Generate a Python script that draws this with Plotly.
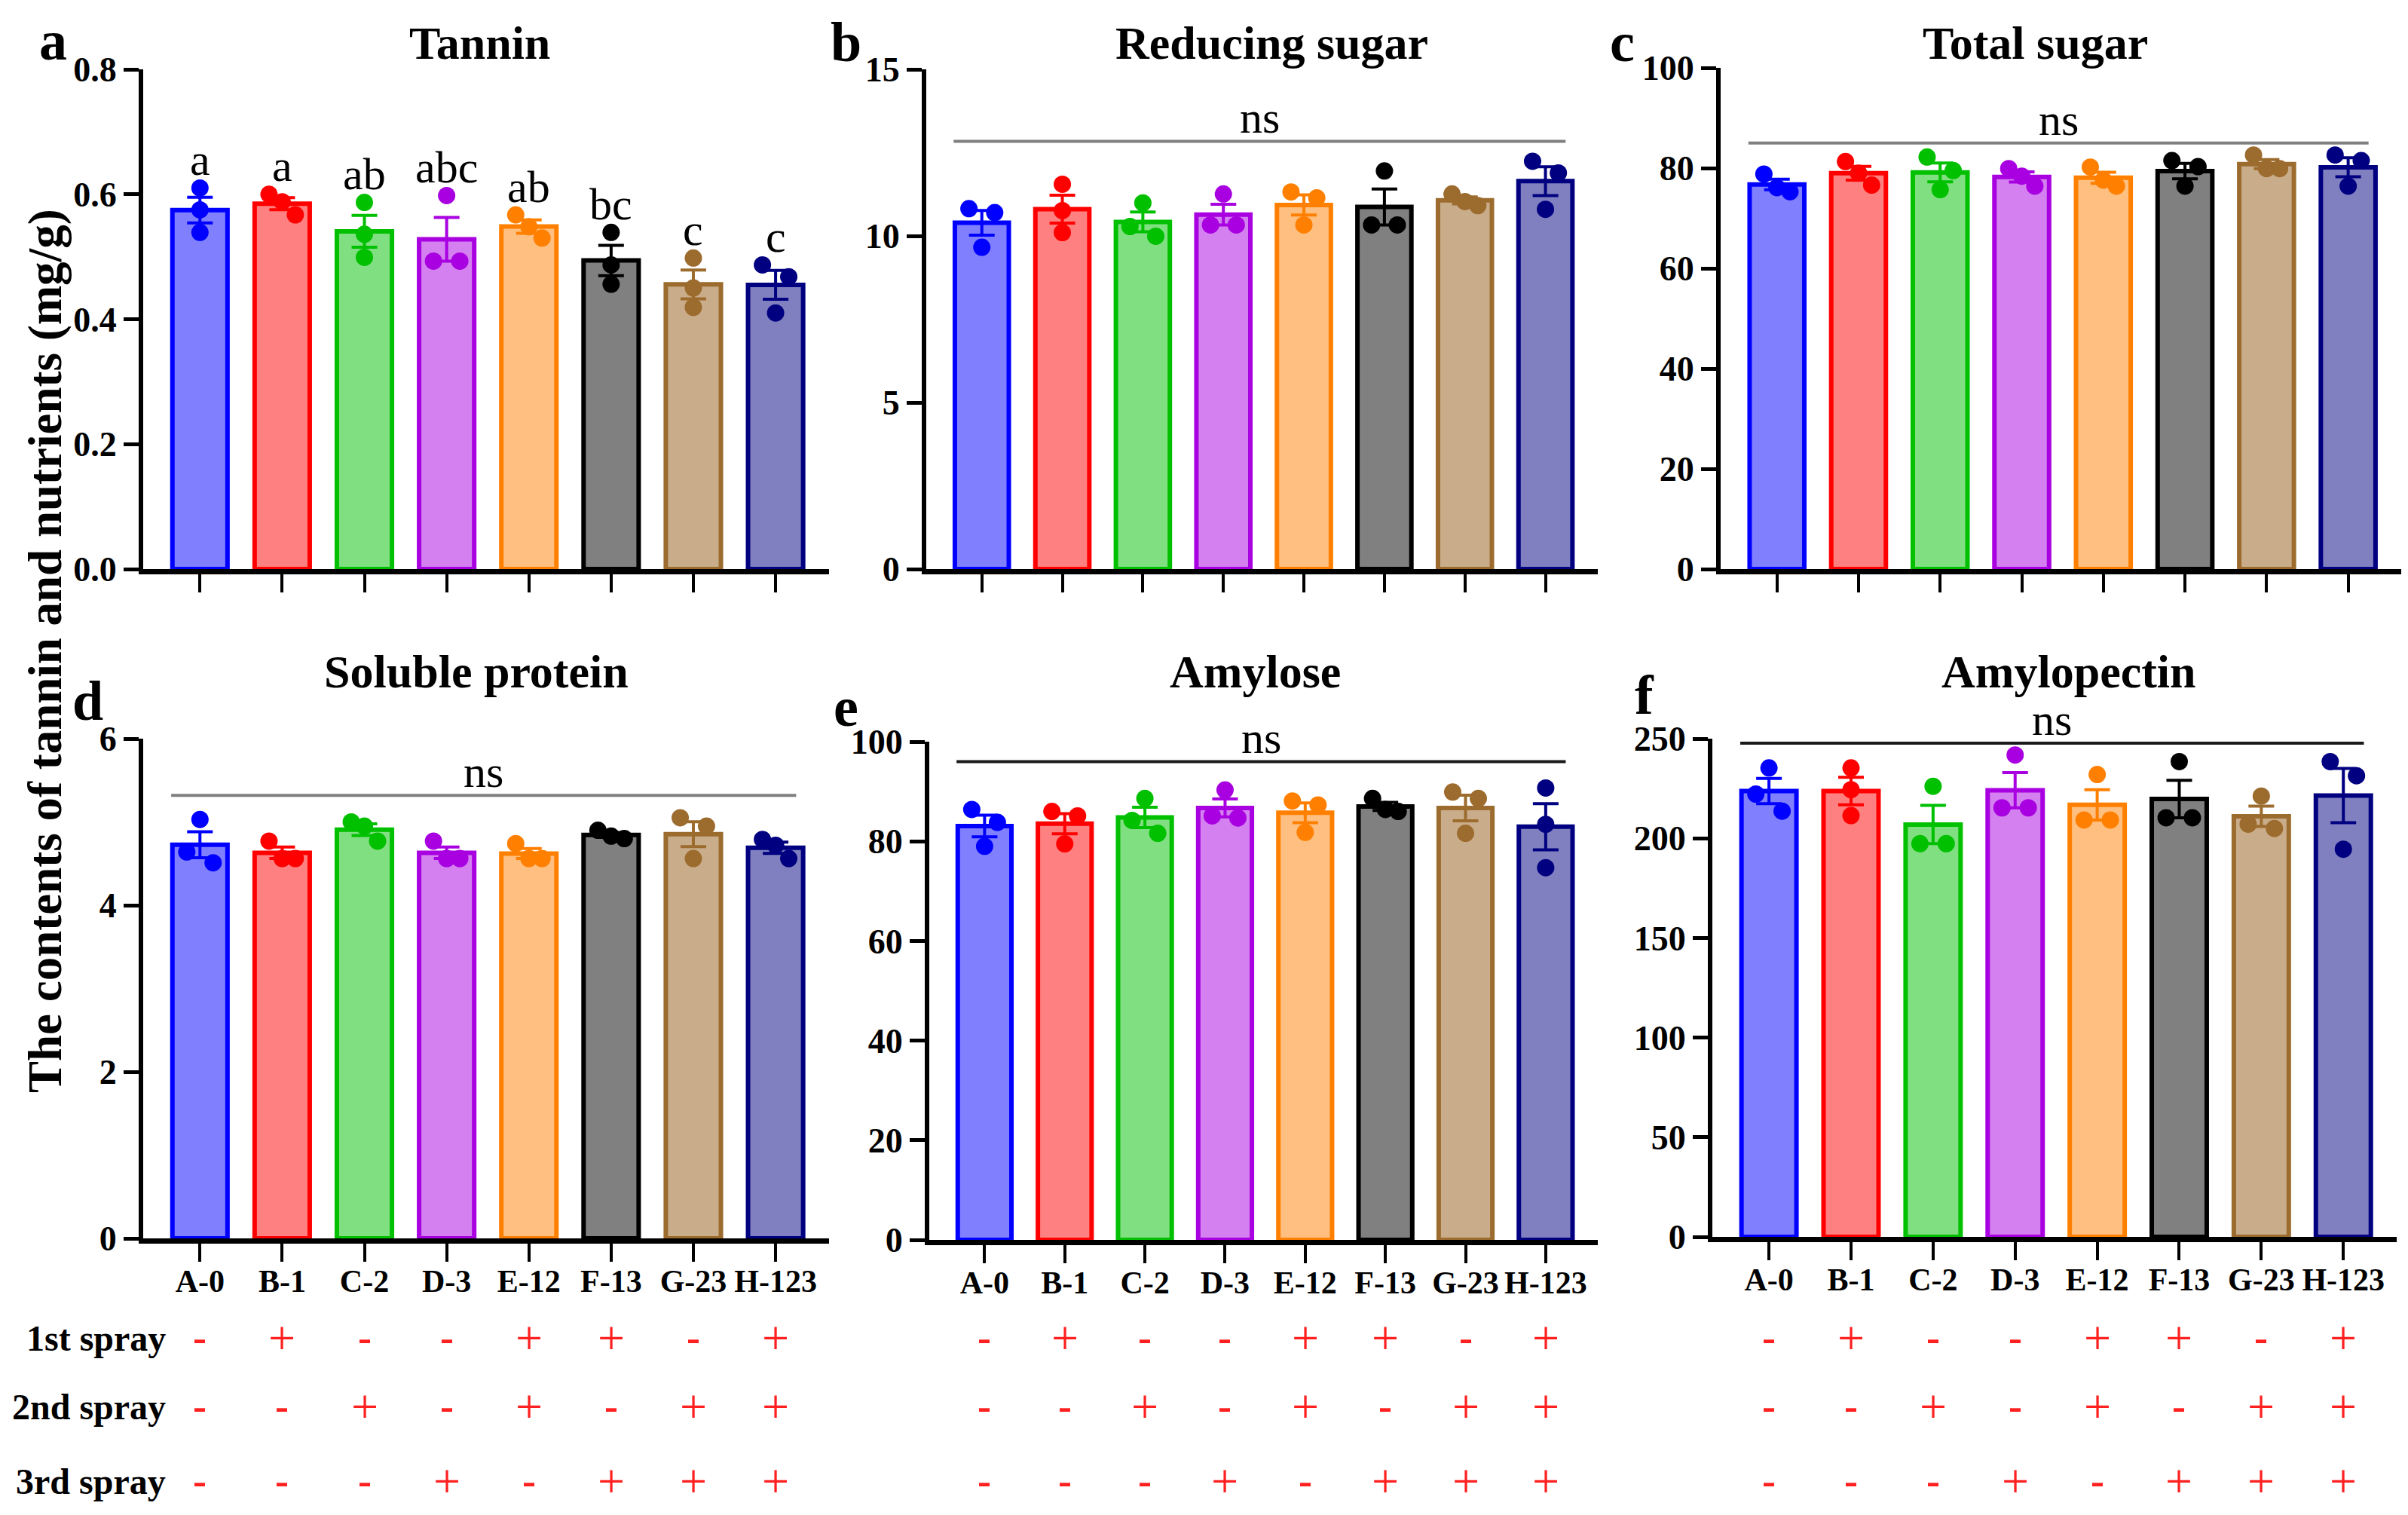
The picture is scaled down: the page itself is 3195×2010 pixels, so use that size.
import numpy as np
import plotly.graph_objects as go

# ---------------- data ----------------
groups = ["A-0", "B-1", "C-2", "D-3", "E-12", "F-13", "G-23", "H-123"]
outline_colors = ["#0000FF", "#FF0000", "#00C000", "#A800E0", "#FF8000", "#000000", "#9C6B2E", "#000080"]
fill_colors = ["#8080FF", "#FF8080", "#80DF80", "#D480F0", "#FFBF80", "#808080", "#C9AD8A", "#8080C0"]

tannin = [[0.610, 0.575, 0.539], [0.600, 0.588, 0.567], [0.587, 0.536, 0.499], [0.598, 0.493, 0.493],
          [0.567, 0.548, 0.530], [0.539, 0.487, 0.456], [0.498, 0.450, 0.419], [0.487, 0.468, 0.410]]
reducing_sugar = [[10.82, 10.70, 9.66], [11.55, 10.76, 10.10], [10.99, 10.28, 9.99], [11.26, 10.33, 10.33],
                  [11.32, 11.14, 10.33], [11.95, 10.33, 10.33], [11.26, 11.03, 10.91], [12.24, 11.89, 10.80]]
total_sugar = [[78.8, 76.1, 75.3], [81.3, 79.0, 76.6], [82.2, 79.5, 75.7], [79.9, 78.4, 76.4],
               [80.2, 77.6, 76.4], [81.5, 80.3, 76.4], [82.6, 79.9, 79.9], [82.6, 81.5, 76.4]]
soluble_protein = [[5.03, 4.64, 4.51], [4.77, 4.56, 4.56], [5.00, 4.95, 4.77], [4.77, 4.56, 4.56],
                   [4.74, 4.56, 4.56], [4.90, 4.83, 4.80], [5.05, 4.95, 4.56], [4.79, 4.72, 4.56]]
amylose = [[86.4, 83.8, 79.0], [86.0, 85.1, 79.5], [88.6, 84.2, 81.6], [90.3, 85.1, 84.7],
           [88.1, 87.3, 81.8], [88.6, 86.4, 86.0], [89.9, 88.6, 81.6], [90.7, 83.4, 74.7]]
amylopectin = [[235.3, 222.2, 213.6], [235.3, 224.4, 211.4], [226.1, 197.3, 197.3], [241.8, 215.3, 215.3],
               [232.0, 209.2, 209.2], [238.5, 210.3, 210.3], [221.2, 207.1, 204.9], [238.5, 231.4, 194.5]]

tannin_letters = ["a", "a", "ab", "abc", "ab", "bc", "c", "c"]

spray1 = ["-", "+", "-", "-", "+", "+", "-", "+"]
spray2 = ["-", "-", "+", "-", "+", "-", "+", "+"]
spray3 = ["-", "-", "-", "+", "-", "+", "+", "+"]
spray_labels = ["1st spray", "2nd spray", "3rd spray"]

panel_titles = ["Tannin", "Reducing sugar", "Total sugar", "Soluble protein", "Amylose", "Amylopectin"]
panel_letters = ["a", "b", "c", "d", "e", "f"]
y_ticks = [[0.0, 0.2, 0.4, 0.6, 0.8], [0, 5, 10, 15], [0, 20, 40, 60, 80, 100],
           [0, 2, 4, 6], [0, 20, 40, 60, 80, 100], [0, 50, 100, 150, 200, 250]]
y_ticktext = [["0.0", "0.2", "0.4", "0.6", "0.8"], ["0", "5", "10", "15"], ["0", "20", "40", "60", "80", "100"],
              ["0", "2", "4", "6"], ["0", "20", "40", "60", "80", "100"], ["0", "50", "100", "150", "200", "250"]]
ns_levels = [None, 12.84, 85.0, 5.32, 96.0, 247.7]
ns_line_colors = [None, "#808080", "#808080", "#808080", "#1a1a1a", "#1a1a1a"]

datasets = [tannin, reducing_sugar, total_sugar, soluble_protein, amylose, amylopectin]

# ---------------- layout geometry ----------------
# page body has an 8px margin: shrink the figure so the page fits the window exactly
PAD = 8
W, H = 3195 - 2 * PAD, 2010 - 2 * PAD
FONT = "Liberation Serif"


def fx(x):
    return (x - PAD) / W


def fy(y):
    return 1 - (y - PAD) / H


x_domains = [(190, 1100), (1229, 2120), (2283, 3186), (190, 1100), (1233, 2120), (2272, 3180)]
y_domains = [(92, 755), (92, 755), (90, 755), (980, 1643), (984, 1645), (980, 1641)]
title_pos = [(636, 57), (1687, 57), (2700, 57), (632, 891), (1665, 891), (2745, 891)]
letter_pos = [(70, 54), (1122, 56), (2152, 56), (116, 930), (1122, 938), (2182, 922)]

fig = go.Figure()
shapes = []
annotations = []
xr = [-0.69, 7.65]
bar_w = 0.67

for p, data in enumerate(datasets):
    ax = "" if p == 0 else str(p + 1)
    xref, yref = "x" + ax, "y" + ax
    ymax = y_ticks[p][-1]
    thr = 0.035 * ymax
    for i, vals in enumerate(data):
        v = np.array(vals, dtype=float)
        mean = v.mean()
        sem = v.std(ddof=1) / np.sqrt(len(v))
        fig.add_trace(go.Bar(
            x=[i], y=[mean], width=bar_w, xaxis=xref, yaxis=yref,
            marker=dict(color=fill_colors[i], line=dict(color=outline_colors[i], width=6)),
            error_y=dict(type="data", array=[sem], visible=True, color=outline_colors[i],
                         thickness=4, width=17),
            hoverinfo="skip"))
        # spread overlapping points horizontally (beeswarm-like)
        order = np.argsort(-v)
        sv = v[order]
        clusters = [[0]]
        for k in range(1, len(sv)):
            if abs(sv[k] - sv[clusters[-1][-1]]) < thr:
                clusters[-1].append(k)
            else:
                clusters.append([k])
        offs = np.zeros(len(sv))
        for c in clusters:
            n = len(c)
            if n == 2:
                offs[c[0]], offs[c[1]] = -0.16, 0.16
            elif n >= 3:
                for j, k in enumerate(c):
                    offs[k] = (j - (n - 1) / 2) * 0.16
        fig.add_trace(go.Scatter(
            x=i + offs, y=sv, mode="markers", xaxis=xref, yaxis=yref,
            marker=dict(color=outline_colors[i], size=23, line=dict(width=0)),
            hoverinfo="skip", cliponaxis=False))

    bottom_row = p >= 3
    x0, x1 = x_domains[p]
    yt, yb = y_domains[p]
    xa = dict(domain=[fx(x0), fx(x1)], range=xr, anchor=yref, showline=True, linewidth=7, linecolor="black",
              ticks="outside", ticklen=24, tickwidth=4, tickcolor="black",
              tickvals=list(range(len(groups))), ticktext=groups, showticklabels=bottom_row,
              ticklabelstandoff=-10,
              tickfont=dict(family=FONT, size=42, color="black", weight="bold"),
              showgrid=False, zeroline=False, fixedrange=True, automargin=False)
    ya = dict(domain=[fy(yb), fy(yt)], range=[0, ymax], anchor=xref, showline=True, linewidth=6,
              linecolor="black", ticks="outside", ticklen=20, tickwidth=5, tickcolor="black",
              tickvals=y_ticks[p], ticktext=y_ticktext[p],
              tickfont=dict(family=FONT, size=46, color="black", weight="bold"),
              showgrid=False, zeroline=False, fixedrange=True, automargin=False)
    fig.update_layout(**{"xaxis" + ax: xa, "yaxis" + ax: ya})

    # title and panel letter
    tx, ty = title_pos[p]
    annotations.append(dict(x=fx(tx), y=fy(ty), xref="paper", yref="paper", showarrow=False,
                            xanchor="center", yanchor="middle",
                            text="<b>%s</b>" % panel_titles[p],
                            font=dict(family=FONT, size=62, color="black")))
    lx, ly = letter_pos[p]
    annotations.append(dict(x=fx(lx), y=fy(ly), xref="paper", yref="paper", showarrow=False,
                            xanchor="center", yanchor="middle",
                            text="<b>%s</b>" % panel_letters[p],
                            font=dict(family=FONT, size=74, color="black")))

    # significance
    if p == 0:
        for i, vals in enumerate(data):
            annotations.append(dict(x=i, y=max(vals) + 0.045, xref=xref, yref=yref, showarrow=False,
                                    text=tannin_letters[i], xanchor="center", yanchor="middle",
                                    font=dict(family=FONT, size=60, color="black")))
    else:
        lvl = ns_levels[p]
        shapes.append(dict(type="line", xref=xref, yref=yref, x0=-0.35, x1=7.25, y0=lvl, y1=lvl,
                           line=dict(color=ns_line_colors[p], width=4)))
        annotations.append(dict(x=3.45, y=lvl, xref=xref, yref=yref, showarrow=False, text="ns",
                                xanchor="center", yanchor="bottom", yshift=-4,
                                font=dict(family=FONT, size=60, color="black")))

# spray table
row_y = [1775, 1866, 1965]
sprays = [spray1, spray2, spray3]
for r, row in enumerate(sprays):
    annotations.append(dict(x=fx(222), y=fy(row_y[r]), xref="paper", yref="paper", showarrow=False,
                            xanchor="right", yanchor="middle", text="<b>%s</b>" % spray_labels[r],
                            font=dict(family=FONT, size=48, color="black")))
    for p in (3, 4, 5):
        xref = "x" + str(p + 1)
        for i, sym in enumerate(row):
            annotations.append(dict(x=i, y=fy(row_y[r]), xref=xref, yref="paper", showarrow=False,
                                    xanchor="center", yanchor="middle",
                                    text=sym if sym == "+" else "<b>-</b>",
                                    font=dict(family=FONT, size=64 if sym == "+" else 54,
                                              color="#FF2020")))

# shared y-axis title
annotations.append(dict(x=fx(60), y=fy(864), xref="paper", yref="paper", showarrow=False,
                        xanchor="center", yanchor="middle",
                        textangle=-90, text="<b>The contents of tannin and nutrients (mg/g)</b>",
                        font=dict(family=FONT, size=63, color="black")))

fig.update_layout(width=W, height=H, margin=dict(l=0, r=0, t=0, b=0, autoexpand=False),
                  paper_bgcolor="white", plot_bgcolor="white", showlegend=False,
                  barmode="overlay", shapes=shapes, annotations=annotations)

fig.write_html("out.html")
